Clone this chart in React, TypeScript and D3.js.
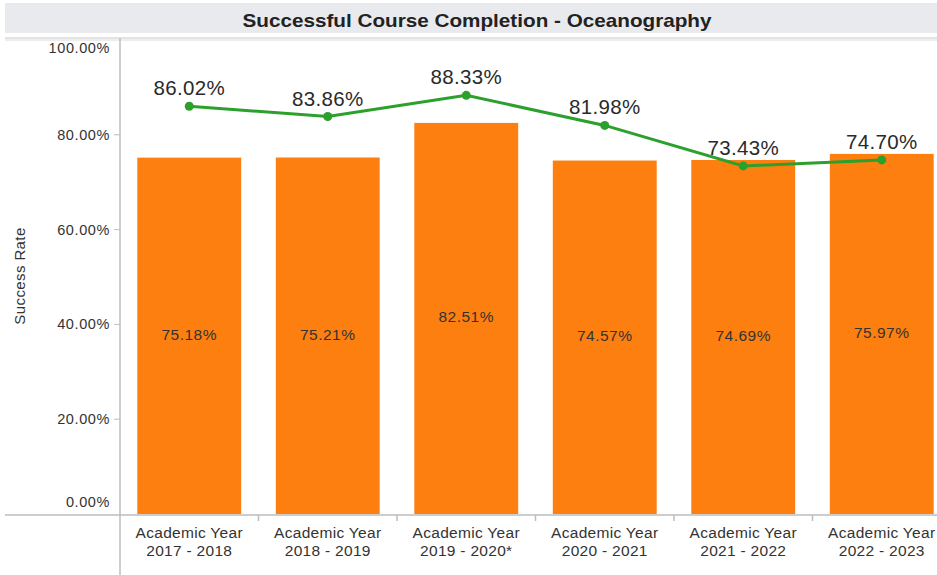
import { scaleBand, scaleLinear, line } from "d3";

const W = 937;
const H = 575;

const categories = [
  ["Academic Year", "2017 - 2018"],
  ["Academic Year", "2018 - 2019"],
  ["Academic Year", "2019 - 2020*"],
  ["Academic Year", "2020 - 2021"],
  ["Academic Year", "2021 - 2022"],
  ["Academic Year", "2022 - 2023"],
];
const oceanographyRate = [75.18, 75.21, 82.51, 74.57, 74.69, 75.97];
const collegeRate = [86.02, 83.86, 88.33, 81.98, 73.43, 74.7];
const yTicks = [0, 20, 40, 60, 80, 100];

const AXIS_X = 120;
const STEP = 138.5;
const Y0 = 514;
const Y100 = 40;
const FONT = "'Liberation Sans', Arial, sans-serif";

export default function App() {
  const keys = categories.map((_, i) => String(i));
  const x = scaleBand<string>()
    .domain(keys)
    .range([AXIS_X, AXIS_X + STEP * keys.length])
    .paddingInner(0.25)
    .paddingOuter(0.125);
  const y = scaleLinear().domain([0, 100]).range([Y0, Y100]);
  const cx = (i: number) => (x(String(i)) ?? 0) + x.bandwidth() / 2;

  const linePath = line<number>()
    .x((_, i) => cx(i))
    .y((d) => y(d));

  return (
    <svg
      width={W}
      height={H}
      style={{ position: "absolute", left: 0, top: 0, background: "#fff" }}
      fontFamily={FONT}
    >
      <rect x={5} y={3} width={W - 5} height={30} fill="#e9eaed" />
      <text
        x={477}
        y={27}
        textAnchor="middle"
        fontSize={19}
        fontWeight="bold"
        textLength={469}
        lengthAdjust="spacingAndGlyphs"
        fill="#222"
      >
        Successful Course Completion - Oceanography
      </text>
      <line x1={5} x2={W} y1={38} y2={38} stroke="#c8c8c8" strokeWidth={1} />
      <line x1={5} x2={W} y1={40} y2={40} stroke="#dcdcdc" strokeWidth={1} />

      {categories.map((_, i) => {
        const v = oceanographyRate[i];
        const bx = x(String(i)) ?? 0;
        return (
          <g key={i}>
            <rect x={bx} y={y(v)} width={x.bandwidth()} height={Y0 - y(v)} fill="#fd7f0f" />
            <text
              x={cx(i)}
              y={(y(v) + Y0) / 2 + 4}
              textAnchor="middle"
              fontSize={15.5}
              letterSpacing={0.5}
              fill="#333"
            >
              {v.toFixed(2)}%
            </text>
          </g>
        );
      })}

      <path d={linePath(collegeRate) ?? undefined} fill="none" stroke="#2ca02c" strokeWidth={3} />
      {collegeRate.map((v, i) => (
        <g key={i}>
          <circle cx={cx(i)} cy={y(v)} r={4.5} fill="#2ca02c" />
          <text
            x={cx(i)}
            y={y(v) - 11}
            textAnchor="middle"
            fontSize={20.5}
            letterSpacing={0.3}
            fill="#2a2a2a"
          >
            {v.toFixed(2)}%
          </text>
        </g>
      ))}

      <line x1={AXIS_X} x2={AXIS_X} y1={38} y2={H} stroke="#bdbdbd" strokeWidth={1.5} />
      <line x1={5} x2={W} y1={Y0 + 1} y2={Y0 + 1} stroke="#bdbdbd" strokeWidth={1.5} />
      {yTicks.map((t) => {
        let ty = y(t) + 5;
        if (t === 100) ty = y(t) + 13;
        if (t === 0) ty = y(t) - 7;
        return (
          <g key={t}>
            {t > 0 && t < 100 && (
              <line x1={AXIS_X - 6} x2={AXIS_X} y1={y(t)} y2={y(t)} stroke="#bdbdbd" />
            )}
            <text
              x={AXIS_X - 10}
              y={ty}
              textAnchor="end"
              fontSize={14.5}
              letterSpacing={0.6}
              fill="#333"
            >
              {t.toFixed(2)}%
            </text>
          </g>
        );
      })}
      <text
        transform={`translate(25, 276) rotate(-90)`}
        textAnchor="middle"
        fontSize={15}
        letterSpacing={0.4}
        fill="#333"
      >
        Success Rate
      </text>

      {categories.map((c, i) => {
        const left = (x(String(i)) ?? 0) - (x.step() - x.bandwidth()) / 2;
        return (
          <g key={i}>
            {i > 0 && (
              <line x1={left} x2={left} y1={Y0 + 1} y2={Y0 + 7} stroke="#bdbdbd" strokeWidth={1.5} />
            )}
            <text x={cx(i)} y={538} textAnchor="middle" fontSize={15.5} letterSpacing={0.3} fill="#333">
              {c[0]}
            </text>
            <text x={cx(i)} y={556} textAnchor="middle" fontSize={15.5} letterSpacing={0.3} fill="#333">
              {c[1]}
            </text>
          </g>
        );
      })}
    </svg>
  );
}
